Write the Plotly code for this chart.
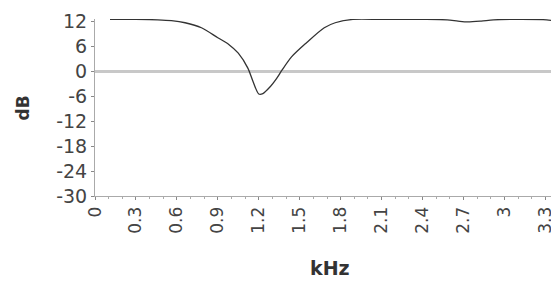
import plotly.graph_objects as go

freq_khz = [0.11, 0.3, 0.46, 0.56, 0.66, 0.78, 0.90, 0.98, 1.05, 1.12, 1.16, 1.20,
            1.23, 1.28, 1.33, 1.37, 1.44, 1.55, 1.68, 1.76, 1.89, 2.1, 2.4, 2.58,
            2.66, 2.73, 2.83, 2.92, 3.1, 3.31, 3.4]
gain_db = [12.4, 12.4, 12.3, 12.1, 11.6, 10.4, 8.0, 6.4, 4.3, 0.7, -2.7, -5.5,
           -5.4, -3.9, -1.8, 0.2, 3.4, 6.8, 10.4, 11.6, 12.4, 12.4, 12.4, 12.3,
           12.0, 11.8, 12.0, 12.3, 12.4, 12.3, 11.9]

x_ticks = [0, 0.3, 0.6, 0.9, 1.2, 1.5, 1.8, 2.1, 2.4, 2.7, 3, 3.3]
x_tick_text = ["0", "0.3", "0.6", "0.9", "1.2", "1.5", "1.8", "2.1", "2.4", "2.7", "3", "3.3"]
y_ticks = [12, 6, 0, -6, -12, -18, -24, -30]
y_tick_text = ["12", "6", "0", "-6", "-12", "-18", "-24", "-30"]

fig = go.Figure()
fig.add_trace(go.Scatter(x=freq_khz, y=gain_db, mode="lines",
                         line=dict(color="#333333", width=1.3, shape="spline", smoothing=0.8),
                         showlegend=False, hoverinfo="skip"))

font_family = "DejaVu Sans"
fig.update_layout(
    width=559, height=281,
    margin=dict(l=87, r=8, t=11, b=93, autoexpand=False),
    paper_bgcolor="white", plot_bgcolor="white",
    font=dict(family=font_family, color="#333333"),
    xaxis=dict(range=[0, 3.4], tickvals=x_ticks, ticktext=x_tick_text,
               tickangle=-90, tickfont=dict(size=17, color="#444444"),
               automargin=False,
               showgrid=False, zeroline=False, showline=True,
               linecolor="#aaaaaa", linewidth=1, ticks="outside", ticklen=3,
               tickcolor="#888888",
               minor=dict(dtick=0.1, ticks="outside", ticklen=2, tickcolor="#aaaaaa")),
    yaxis=dict(range=[-30, 12.5], tickvals=y_ticks, ticktext=y_tick_text, automargin=False,
               tickfont=dict(size=19, color="#444444"),
               showgrid=False, zeroline=True, zerolinecolor="#c8c8c8", zerolinewidth=3,
               showline=True, linecolor="#aaaaaa", linewidth=1,
               ticks="outside", ticklen=3, tickcolor="#888888"),
    annotations=[
        dict(text="<b>kHz</b>", xref="paper", yref="paper", x=(330 - 95) / 464,
             y=-(268 - 196) / 177, xanchor="center", yanchor="middle",
             showarrow=False, font=dict(size=19, color="#333333")),
        dict(text="<b>dB</b>", xref="paper", yref="paper", x=-(95 - 22.5) / 464,
             y=(196 - 108) / 177, xanchor="center", yanchor="middle", textangle=-90,
             showarrow=False, font=dict(size=17, color="#333333")),
    ],
)

fig.write_html("out.html")
